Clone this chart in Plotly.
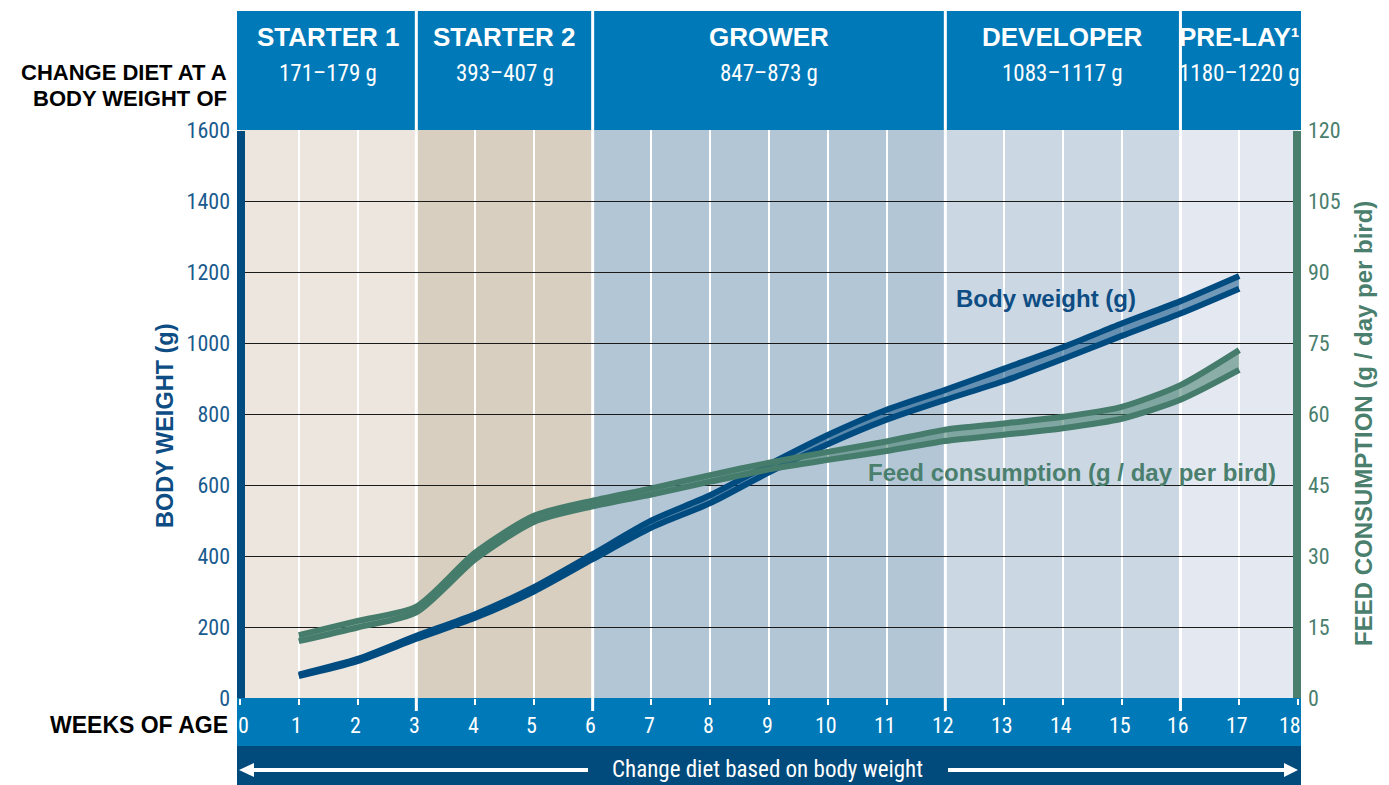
import plotly.graph_objects as go

# ---- data -------------------------------------------------------------
weeks = list(range(1, 18))

# body weight target band (g), lower and upper limits
bw_min = [62, 104, 167, 226, 300, 391, 480, 549, 636, 715, 784, 840, 893, 955, 1020, 1083, 1153]
bw_max = [66, 110, 175, 236, 312, 405, 500, 571, 658, 741, 812, 868, 928, 988, 1055, 1118, 1189]

# feed consumption band (g / day per bird)
feed_min = [12.0, 14.9, 18.1, 29.3, 37.2, 40.5, 43.0, 45.7, 48.3, 50.3, 52.2, 54.3, 55.6, 57.0, 59.0, 63.0, 69.3]
feed_max = [13.3, 16.3, 19.3, 30.7, 38.5, 41.7, 44.3, 47.1, 49.7, 52.0, 54.2, 56.7, 58.0, 59.4, 61.5, 66.1, 73.5]

phase_names = ["STARTER 1", "STARTER 2", "GROWER", "DEVELOPER", "PRE-LAY¹"]
phase_weights = ["171–179 g", "393–407 g", "847–873 g", "1083–1117 g", "1180–1220 g"]
phase_bounds = [0, 3, 6, 12, 16, 18]
phase_colors = ["#ece6de", "#d8cfc0", "#b3c6d6", "#cbd7e3", "#e4e9f1"]

bw_ticks = list(range(0, 1601, 200))
feed_ticks = list(range(0, 121, 15))
week_ticks = list(range(0, 19))

# ---- styling ----------------------------------------------------------
W, H = 1389, 785
L, R, T, B = 240, 1298, 130, 698
HEAD_BLUE = "#0079b8"
DARK_BLUE = "#004a7c"
BW_LINE = "#004b80"
BW_FILL = "rgba(0,74,128,0.5)"
FEED_LINE = "#457c6b"
FEED_FILL = "rgba(68,125,108,0.55)"
TICK_BLUE = "#1a5b8e"
TICK_GREEN = "#4a7f6e"
TITLE_BLUE = "#0e4d84"
BOLD = "Liberation Sans, Arial, Helvetica, sans-serif"
NARROW = "Liberation Sans Narrow, Arial Narrow, Roboto Condensed, DejaVu Sans Condensed, Roboto, sans-serif"


def px_x(p):
    return (p - L) / (R - L)


def px_y(p):
    return (B - p) / (B - T)


fig = go.Figure()

spline = dict(shape="spline", smoothing=0.7)

# body weight band
fig.add_trace(go.Scatter(x=weeks, y=bw_min, mode="lines", line=dict(width=0, **spline),
                         hoverinfo="skip", showlegend=False))
fig.add_trace(go.Scatter(x=weeks, y=bw_max, mode="lines", fill="tonexty", fillcolor=BW_FILL,
                         line=dict(width=0, **spline), hoverinfo="skip", showlegend=False))
# feed band
fig.add_trace(go.Scatter(x=weeks, y=feed_min, yaxis="y2", mode="lines",
                         line=dict(width=0, **spline), hoverinfo="skip", showlegend=False))
fig.add_trace(go.Scatter(x=weeks, y=feed_max, yaxis="y2", mode="lines", fill="tonexty", fillcolor=FEED_FILL,
                         line=dict(width=0, **spline), hoverinfo="skip", showlegend=False))
# band edges
for ys in (feed_min, feed_max):
    fig.add_trace(go.Scatter(x=weeks, y=ys, yaxis="y2", mode="lines",
                             line=dict(color=FEED_LINE, width=6, **spline), showlegend=False))
for ys in (bw_min, bw_max):
    fig.add_trace(go.Scatter(x=weeks, y=ys, mode="lines",
                             line=dict(color=BW_LINE, width=6, **spline), showlegend=False))

shapes = []
# phase backgrounds
for i, c in enumerate(phase_colors):
    shapes.append(dict(type="rect", xref="x", yref="paper", x0=phase_bounds[i], x1=phase_bounds[i + 1],
                       y0=0, y1=1, fillcolor=c, line_width=0, layer="below"))
# header, week band, bottom band
shapes.append(dict(type="rect", xref="paper", yref="paper", x0=px_x(237), x1=px_x(1301),
                   y0=px_y(130), y1=px_y(11), fillcolor=HEAD_BLUE, line_width=0, layer="below"))
shapes.append(dict(type="rect", xref="paper", yref="paper", x0=px_x(237), x1=px_x(1301),
                   y0=px_y(746), y1=px_y(698), fillcolor=HEAD_BLUE, line_width=0, layer="below"))
shapes.append(dict(type="rect", xref="paper", yref="paper", x0=px_x(237), x1=px_x(1301),
                   y0=px_y(786), y1=px_y(746), fillcolor=DARK_BLUE, line_width=0, layer="below"))
# phase separators
for b in phase_bounds[1:-1]:
    shapes.append(dict(type="line", xref="x", yref="paper", x0=b, x1=b, y0=px_y(711), y1=px_y(11),
                       line=dict(color="white", width=3), layer="below"))
# axis lines
shapes.append(dict(type="line", xref="paper", yref="paper", x0=px_x(241), x1=px_x(241), y0=0, y1=px_y(131),
                   line=dict(color=BW_LINE, width=8), layer="above"))
shapes.append(dict(type="line", xref="paper", yref="paper", x0=px_x(1297), x1=px_x(1297), y0=0, y1=px_y(131),
                   line=dict(color=TICK_GREEN, width=8), layer="above"))
# double arrow in the bottom band
ay = px_y(770)
shapes.append(dict(type="line", xref="paper", yref="paper", x0=px_x(250), x1=px_x(588), y0=ay, y1=ay,
                   line=dict(color="white", width=4), layer="above"))
shapes.append(dict(type="line", xref="paper", yref="paper", x0=px_x(948), x1=px_x(1286), y0=ay, y1=ay,
                   line=dict(color="white", width=4), layer="above"))
shapes.append(dict(type="path", xref="paper", yref="paper",
                   path=f"M {px_x(239)} {ay} L {px_x(254)} {px_y(763)} L {px_x(254)} {px_y(777)} Z",
                   fillcolor="white", line_width=0, layer="above"))
shapes.append(dict(type="path", xref="paper", yref="paper",
                   path=f"M {px_x(1298)} {ay} L {px_x(1284)} {px_y(763)} L {px_x(1284)} {px_y(777)} Z",
                   fillcolor="white", line_width=0, layer="above"))

annotations = []
for i, (name, wt) in enumerate(zip(phase_names, phase_weights)):
    cx = (phase_bounds[i] + phase_bounds[i + 1]) / 2
    annotations.append(dict(x=cx, y=px_y(37), xref="x", yref="paper", text=name, showarrow=False,
                            font=dict(family=BOLD, size=26, color="white", weight="bold"),
                            xanchor="center", yanchor="middle"))
    annotations.append(dict(x=cx, y=px_y(74), xref="x", yref="paper", text=wt, showarrow=False,
                            font=dict(family=NARROW, size=23, color="white"),
                            xanchor="center", yanchor="middle"))

# week numbers inside the blue band (end labels nudged inward to stay inside it)
for w in week_ticks:
    shift = 3 if w == week_ticks[0] else (-8 if w == week_ticks[-1] else -2)
    annotations.append(dict(x=w, y=px_y(725), xref="x", yref="paper", text=str(w), showarrow=False,
                            xshift=shift, font=dict(family=NARROW, size=22, color="white"),
                            xanchor="center", yanchor="middle"))

annotations += [
    dict(x=px_x(229), y=px_y(72), xref="paper", yref="paper", text="CHANGE DIET AT A", showarrow=False,
         font=dict(family=BOLD, size=22, color="black", weight="bold"), xanchor="right", yanchor="middle"),
    dict(x=px_x(229), y=px_y(98), xref="paper", yref="paper", text="BODY WEIGHT OF", showarrow=False,
         font=dict(family=BOLD, size=22, color="black", weight="bold"), xanchor="right", yanchor="middle"),
    dict(x=px_x(230), y=px_y(725), xref="paper", yref="paper", text="WEEKS OF AGE", showarrow=False,
         font=dict(family=BOLD, size=23, color="black", weight="bold"), xanchor="right", yanchor="middle"),
    dict(x=px_x(165), y=px_y(426), xref="paper", yref="paper", text="BODY WEIGHT (g)", showarrow=False,
         textangle=-90, font=dict(family=BOLD, size=23.5, color=TITLE_BLUE, weight="bold"),
         xanchor="center", yanchor="middle"),
    dict(x=px_x(1363), y=px_y(424), xref="paper", yref="paper", text="FEED CONSUMPTION (g / day per bird)",
         showarrow=False, textangle=-90, font=dict(family=BOLD, size=24, color=TICK_GREEN, weight="bold"),
         xanchor="center", yanchor="middle"),
    dict(x=px_x(1046), y=px_y(298), xref="paper", yref="paper", text="Body weight (g)", showarrow=False,
         font=dict(family=BOLD, size=24, color=TITLE_BLUE, weight="bold"), xanchor="center", yanchor="middle"),
    dict(x=px_x(1072), y=px_y(472), xref="paper", yref="paper", text="Feed consumption (g / day per bird)",
         showarrow=False, font=dict(family=BOLD, size=24, color=TICK_GREEN, weight="bold"),
         xanchor="center", yanchor="middle"),
    dict(x=px_x(767), y=px_y(769), xref="paper", yref="paper", text="Change diet based on body weight",
         showarrow=False, font=dict(family=NARROW, size=23, color="white"), xanchor="center", yanchor="middle"),
]

fig.update_layout(
    width=W, height=H,
    margin=dict(l=L, r=W - R, t=T, b=H - B, pad=0),
    paper_bgcolor="white", plot_bgcolor="white",
    showlegend=False,
    shapes=shapes, annotations=annotations,
    xaxis=dict(range=[0, 18], tickvals=week_ticks, showticklabels=False,
               showgrid=True, gridcolor="white", gridwidth=1.5, zeroline=False, showline=False,
               ticks="outside", ticklen=6, tickcolor="white", tickwidth=1.5, fixedrange=True),
    yaxis=dict(range=[0, 1600], tickvals=bw_ticks, showgrid=True, gridcolor="#1a1a1a", gridwidth=1.2,
               zeroline=False, showline=False, ticks="",
               tickfont=dict(family=NARROW, size=22, color=TICK_BLUE), ticklabelstandoff=9, fixedrange=True),
    yaxis2=dict(range=[0, 120], tickvals=feed_ticks, overlaying="y", side="right", showgrid=False,
                zeroline=False, showline=False, ticks="",
                tickfont=dict(family=NARROW, size=22, color=TICK_GREEN), ticklabelstandoff=9, fixedrange=True),
)

fig.write_html("out.html")
